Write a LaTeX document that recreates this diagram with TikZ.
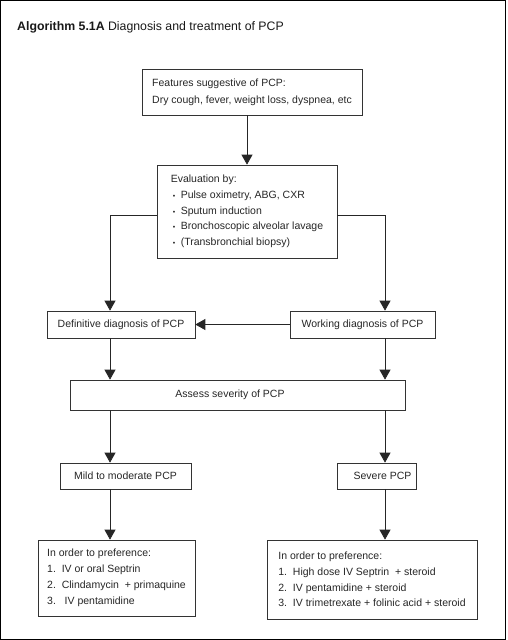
\documentclass[tikz,border=0pt]{standalone}
\usepackage{fontspec}
\setmainfont{Liberation Sans}
\usetikzlibrary{arrows.meta}
\begin{document}
\begin{tikzpicture}[x=1pt,y=-1pt,
  box/.style={draw=black!80, line width=0.7pt, inner sep=0pt, text=black!85,
    font=\fontsize{10.5}{12}\selectfont},
  multibox/.style={box, align=left},
  arr/.style={draw=black!85, line width=0.8pt, -{Triangle[width=11pt,length=10pt]}}]
\useasboundingbox (0,0) rectangle (507,640);
\draw[line width=1pt] (0.5,0.5) rectangle (505.5,639.5);
\coordinate (lx) at (110,0);
\coordinate (rx) at (385,0);

\node[anchor=base west, inner sep=0pt, text=black!90, font=\fontsize{12.3}{14}\selectfont] (title) at (17,30)
  {\textbf{Algorithm 5.1A} Diagnosis and treatment of PCP};

\node[multibox, minimum width=220pt, minimum height=46pt,
  font=\fontsize{10.5}{17}\selectfont] (feat) at (252,92)
  {Features suggestive of PCP:\\Dry cough, fever, weight loss, dyspnea, etc};

\node[multibox, minimum width=180pt, minimum height=93pt,
  font=\fontsize{10.5}{15.75}\selectfont] (eval) at (247,211.5)
  {Evaluation by:\\
   \hspace*{2pt}\makebox[8pt][l]{\scriptsize •}Pulse oximetry, ABG, CXR\\
   \hspace*{2pt}\makebox[8pt][l]{\scriptsize •}Sputum induction\\
   \hspace*{2pt}\makebox[8pt][l]{\scriptsize •}Bronchoscopic alveolar lavage\\
   \hspace*{2pt}\makebox[8pt][l]{\scriptsize •}(Transbronchial biopsy)};

\node[box, minimum width=148pt, minimum height=27pt] (def) at (121,324.5) {Definitive diagnosis of PCP};
\node[box, minimum width=145pt, minimum height=27pt] (work) at (362.5,324.5) {Working diagnosis of PCP};
\node[box, minimum width=335pt, minimum height=30pt] (assess) at (237.5,395) {Assess severity of PCP\hspace*{15pt}};
\node[box, minimum width=131pt, minimum height=26pt] (mild) at (125.5,476) {Mild to moderate PCP};
\node[box, minimum width=79pt, minimum height=26pt] (severe) at (376.5,476) {\hspace*{12pt}Severe PCP};

\node[multibox, minimum width=157pt, minimum height=76pt,
  font=\fontsize{10.5}{16}\selectfont] (treatL) at (116.5,578)
  {In order to preference:\\
   1.\ \ IV or oral Septrin\\
   2.\ \ Clindamycin \ + primaquine\\
   3.\ \ \ IV pentamidine};

\node[multibox, minimum width=210pt, minimum height=79pt,
  font=\fontsize{10.5}{15.7}\selectfont] (treatR) at (372,579.5)
  {In order to preference:\\
   1.\ \ High dose IV Septrin \ + steroid\\
   2.\ \ IV pentamidine + steroid\\
   3.\ \ IV trimetrexate + folinic acid + steroid};

\draw[arr] (feat.south -| eval.north) -- (eval.north);
\draw[arr] ([yshift=-3.5pt]eval.west) -| (def.north -| lx);
\draw[arr] ([yshift=-3.5pt]eval.east) -| (work.north -| rx);
\draw[arr] (work.west) -- (def.east);
\draw[arr] (def.south -| lx) -- (assess.north -| lx);
\draw[arr] (work.south -| rx) -- (assess.north -| rx);
\draw[arr] (assess.south -| lx) -- (mild.north -| lx);
\draw[arr] (assess.south -| rx) -- (severe.north -| rx);
\draw[arr] (mild.south -| lx) -- (treatL.north -| lx);
\draw[arr] (severe.south -| rx) -- (treatR.north -| rx);
\end{tikzpicture}
\end{document}
